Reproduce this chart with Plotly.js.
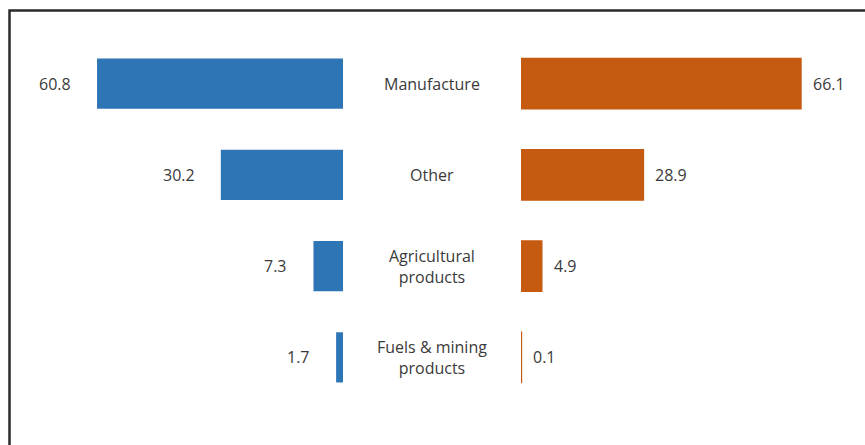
<!DOCTYPE html>
<html>
<head>
<meta charset="utf-8">
<script src="https://cdn.plot.ly/plotly-3.0.1.min.js"></script>
<style>html,body{margin:0;padding:0;background:#fff;}#chart{width:865px;height:445px;}</style>
</head>
<body>
<div id="chart"></div>
<script>
const categories = ["Manufacture", "Other", "Agricultural<br>products", "Fuels &amp; mining<br>products"];
const leftValues = [60.8, 30.2, 7.3, 1.7];
const rightValues = [66.1, 28.9, 4.9, 0.1];

const W = 865, H = 445;
const font = {family: "Open Sans, sans-serif", size: 16, color: "#3a3a3a"};
const yIdx = categories.map((c, i) => i);

const traces = [
  {type: "bar", orientation: "h", x: leftValues, y: yIdx, xaxis: "x", yaxis: "y",
   marker: {color: "#2E75B6", line: {width: 0}}, hoverinfo: "x"},
  {type: "bar", orientation: "h", x: rightValues, y: yIdx, xaxis: "x2", yaxis: "y",
   marker: {color: "#C55A11", line: {color: "#C55A11", width: 1.5}}, hoverinfo: "x"}
];

const annotations = [];
categories.forEach((c, i) => {
  annotations.push({xref: "paper", yref: "y", x: 432 / W, y: i, text: c, showarrow: false,
    xanchor: "center", yanchor: "middle", font: font});
  annotations.push({xref: "x", yref: "y", x: leftValues[i], y: i, text: leftValues[i].toFixed(1),
    showarrow: false, xanchor: "right", yanchor: "middle", xshift: -24, font: font});
  annotations.push({xref: "x2", yref: "y", x: rightValues[i], y: i, text: rightValues[i].toFixed(1),
    showarrow: false, xanchor: "left", yanchor: "middle", xshift: 10, font: font});
});

const layout = {
  width: W, height: H,
  margin: {l: 0, r: 0, t: 0, b: 0},
  paper_bgcolor: "#fff", plot_bgcolor: "#fff",
  showlegend: false,
  bargap: 0.45,
  font: font,
  xaxis: {domain: [20 / W, 343 / W], range: [79.84, 0], visible: false, fixedrange: true},
  xaxis2: {domain: [521 / W, 859 / W], range: [0, 79.8], visible: false, fixedrange: true},
  yaxis: {domain: [42 / H, 407 / H], range: [3.5, -0.5], visible: false, fixedrange: true},
  annotations: annotations,
  shapes: [{type: "rect", xref: "paper", yref: "paper", x0: 9.5 / W, x1: 1.05, y0: -0.05, y1: (H - 10.5) / H,
    line: {color: "#2b2b2b", width: 2.5}, fillcolor: "rgba(0,0,0,0)"}]
};

Plotly.newPlot("chart", traces, layout, {displayModeBar: false, staticPlot: true});
</script>
</body>
</html>
